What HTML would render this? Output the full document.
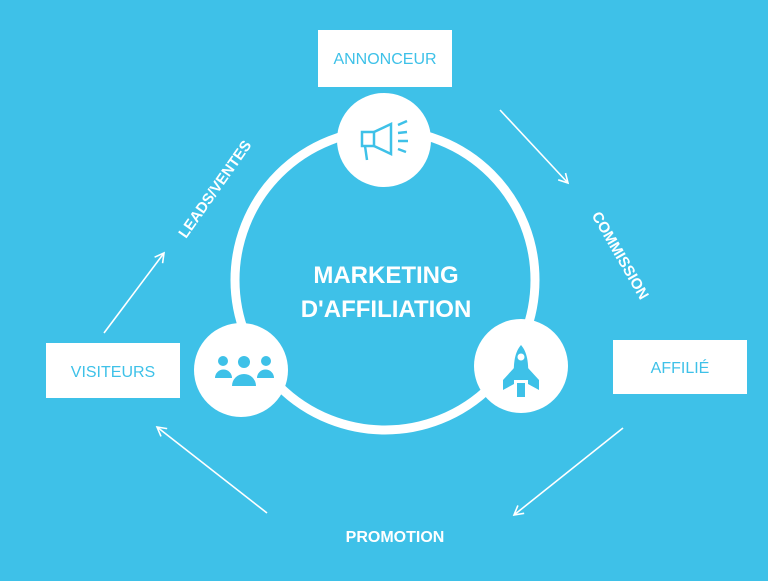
<!DOCTYPE html>
<html><head><style>
body{margin:0;width:768px;height:576px;background:#3ec1e8;overflow:hidden;font-family:"Liberation Sans",sans-serif}
</style></head><body>
<svg width="768" height="576" viewBox="0 0 768 576" xmlns="http://www.w3.org/2000/svg" font-family="Liberation Sans, sans-serif">
<defs><marker id="a" markerWidth="12" markerHeight="12" refX="10" refY="6" orient="auto" markerUnits="userSpaceOnUse"><path d="M1,1 L10,6 L1,11" fill="none" stroke="#fff" stroke-width="1.6"/></marker></defs>
<circle cx="385" cy="280" r="150" fill="none" stroke="#fff" stroke-width="9"/>
<circle cx="384" cy="140" r="47" fill="#fff"/>
<circle cx="241" cy="370" r="47" fill="#fff"/>
<circle cx="521" cy="366" r="47" fill="#fff"/>
<g fill="none" stroke="#3ec1e8" stroke-width="2.5">
<rect x="362" y="132" width="12" height="14"/>
<path d="M374,132 L391,124 L391,154 L374,146"/>
<path d="M365,146 L367,160"/>
<path d="M398,125 L407,121 M398,133 L407,132 M398,141 L408,141 M398,149 L406,152"/>
</g>
<g fill="#3ec1e8">
<circle cx="223" cy="361" r="5"/><circle cx="244" cy="362" r="6"/><circle cx="266" cy="361" r="5"/>
<path d="M215,378 a8,8 0 0 1 17,0 z"/><path d="M257,378 a8,8 0 0 1 17,0 z"/>
<path d="M232,386 a12,12 0 0 1 24,0 z"/>
</g>
<g fill="#3ec1e8">
<path d="M521,345 C527,352 529,362 528,380 L514,380 C513,362 515,352 521,345 z"/>
<path d="M514,368 L503,380 L503,390 L514,384 z"/><path d="M528,368 L539,380 L539,390 L528,384 z"/>
<rect x="517" y="383" width="8" height="14"/>
</g>
<circle cx="521" cy="357" r="3.5" fill="#fff"/>
<rect x="318" y="30" width="134" height="57" fill="#fff"/>
<rect x="613" y="340" width="134" height="54" fill="#fff"/>
<rect x="46" y="343" width="134" height="55" fill="#fff"/>
<g fill="#3ec1e8" font-size="16" text-anchor="middle">
<text x="385" y="64">ANNONCEUR</text>
<text x="680" y="373">AFFILIÉ</text>
<text x="113" y="377">VISITEURS</text>
</g>
<g fill="#fff" font-weight="bold" text-anchor="middle">
<text x="386" y="283" font-size="24">MARKETING</text>
<text x="386" y="317" font-size="24">D'AFFILIATION</text>
<text x="395" y="542" font-size="16">PROMOTION</text>
<text font-size="15" transform="translate(219,192) rotate(-55)">LEADS/VENTES</text>
<text font-size="15" transform="translate(616,258) rotate(60)">COMMISSION</text>
</g>
<g stroke="#fff" stroke-width="1.6" marker-end="url(#a)">
<line x1="500" y1="110" x2="568" y2="183"/>
<line x1="104" y1="333" x2="164" y2="253"/>
<line x1="623" y1="428" x2="514" y2="515"/>
<line x1="267" y1="513" x2="157" y2="427"/>
</g>
</svg>
</body></html>
